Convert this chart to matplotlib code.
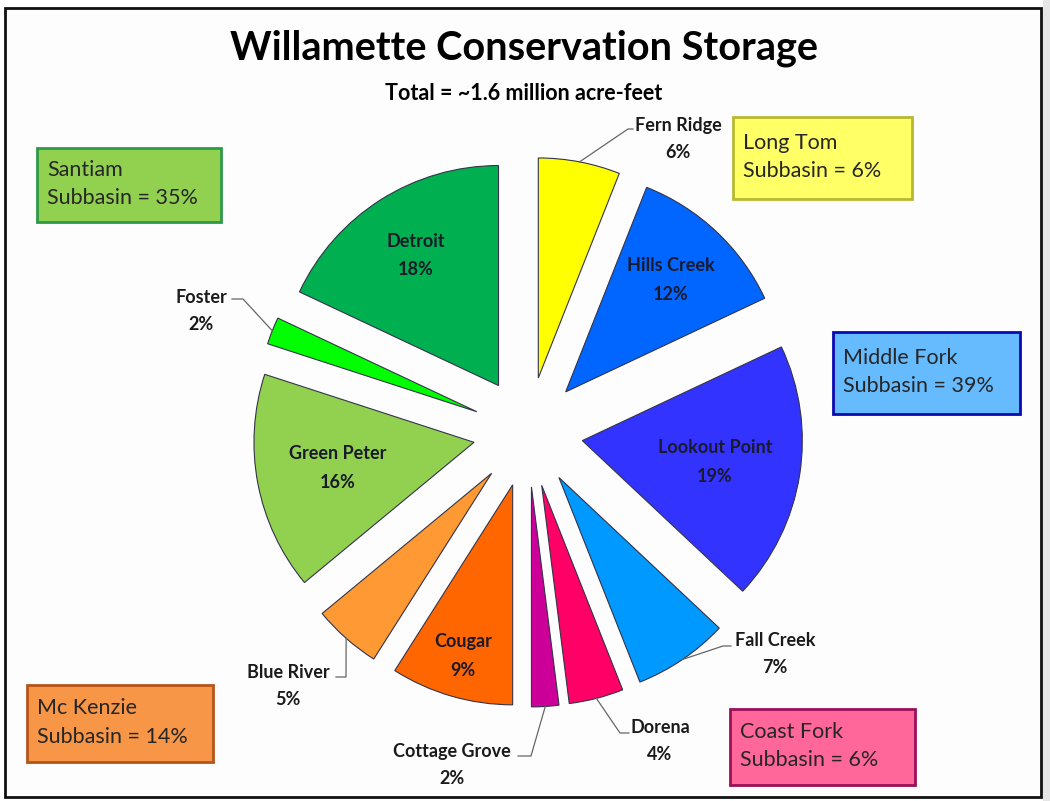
import numpy as np
import matplotlib.pyplot as plt
from matplotlib.patches import Rectangle

plt.rcParams['font.family'] = ['Lato', 'DejaVu Sans']

# Reservoir shares of conservation storage (percent), clockwise from 12 o'clock
reservoirs = ['Fern Ridge', 'Hills Creek', 'Lookout Point', 'Fall Creek', 'Dorena',
              'Cottage Grove', 'Cougar', 'Blue River', 'Green Peter', 'Foster', 'Detroit']
shares = [6, 12, 19, 7, 4, 2, 9, 5, 16, 2, 18]
slice_colors = ['#ffff00', '#0066ff', '#3333ff', '#0099ff', '#ff0066',
                '#cc0099', '#ff6600', '#ff9933', '#92d050', '#00ff00', '#00b050']

# Subbasin totals shown in the corner boxes
subbasins = ['Santiam', 'Long Tom', 'Middle Fork', 'Mc Kenzie', 'Coast Fork']
subbasin_pct = [35, 6, 39, 14, 6]

W, H = 1050, 801
CX, CY, R = 528, 432, 220   # pie centre and radius in pixels
EXPLODE = 0.25


def px(x, y):
    """pixel position -> pie data coordinates"""
    return (x - CX) / R, (CY - y) / R


fig = plt.figure(figsize=(W / 100, H / 100), dpi=100)
ax = fig.add_axes([0, 0, 1, 1])

wedges, _ = ax.pie(shares, colors=slice_colors, startangle=90, counterclock=False,
                   explode=[EXPLODE] * len(shares), radius=1,
                   wedgeprops=dict(edgecolor='#33334a', linewidth=0.8))

ax.set_xlim(px(0, 0)[0], px(W, 0)[0])
ax.set_ylim(px(0, H)[1], px(0, 0)[1])
ax.set_aspect('equal')
ax.axis('off')

# slide frame
fig.patches.append(Rectangle((1043 / W, 0), 7 / W, 1, transform=fig.transFigure,
                             facecolor='#e6e6e6', edgecolor='none', zorder=0))
fx0, fy0 = px(5, 797)
fx1, fy1 = px(1041, 8)
ax.add_patch(Rectangle((fx0, fy0), fx1 - fx0, fy1 - fy0, facecolor='#fdfdfd',
                       edgecolor='#111111', lw=2, zorder=0))

mids = []
for w in wedges:
    mids.append(np.deg2rad((w.theta1 + w.theta2) / 2))

# labels inside the larger slices
inside = {'Hills Creek': 0.70, 'Lookout Point': 0.61, 'Cougar': 0.81,
          'Green Peter': 0.63, 'Detroit': 0.70}
for name, r in inside.items():
    i = reservoirs.index(name)
    d = EXPLODE + r
    ax.text(d * np.cos(mids[i]), d * np.sin(mids[i]), f'{name}\n{shares[i]}%',
            ha='center', va='center', fontsize=13, fontweight='bold',
            color='#1a1a2a', linespacing=1.85)

# labels outside the thin slices, with leader lines (text centre, elbow point)
outside = {
    'Fern Ridge': ((678, 139), [(628, 129), (633, 129)]),
    'Foster': ((201, 311), [(243, 299), (232, 299)]),
    'Blue River': ((288, 686), [(346, 677), (336, 677)]),
    'Cottage Grove': ((452, 765), [(531, 756), (518, 756)]),
    'Dorena': ((660, 741), [(620, 733), (629, 733)]),
    'Fall Creek': ((775, 654), [(723, 646), (731, 646)]),
}
for name, ((tx, ty), elbow) in outside.items():
    i = reservoirs.index(name)
    d = EXPLODE + 1.0
    xs = [d * np.cos(mids[i])] + [px(*p)[0] for p in elbow]
    ys = [d * np.sin(mids[i])] + [px(*p)[1] for p in elbow]
    ax.plot(xs, ys, color='#666666', lw=0.9, zorder=3)
    ax.text(*px(tx, ty), f'{name}\n{shares[i]}%', ha='center', va='center',
            fontsize=13, fontweight='bold', color='#1a1a1a', linespacing=1.75)

# subbasin boxes: (left, top, right, bottom) in pixels, fill, border
boxes = {
    'Santiam': ((37, 148, 221, 222), '#92d050', '#2e9a48'),
    'Long Tom': ((733, 117, 912, 199), '#ffff66', '#b8b832'),
    'Middle Fork': ((833, 332, 1020, 414), '#66bbff', '#0a0ab4'),
    'Mc Kenzie': ((27, 685, 213, 762), '#f79646', '#b5541a'),
    'Coast Fork': ((730, 709, 915, 785), '#ff6699', '#99105a'),
}
for name, pct in zip(subbasins, subbasin_pct):
    (l, t, r, b), fc, ec = boxes[name]
    x0, y0 = px(l, b)
    x1, y1 = px(r, t)
    ax.add_patch(Rectangle((x0, y0), x1 - x0, y1 - y0, facecolor=fc,
                           edgecolor=ec, lw=2, zorder=4))
    ax.text(*px(l + 10, (t + b) / 2 - 1), f'{name}\nSubbasin = {pct}%', ha='left',
            va='center', fontsize=15.5, color='#262626', linespacing=1.55, zorder=5)

ax.text(*px(524, 48), 'Willamette Conservation Storage', ha='center', va='center',
        fontsize=28.5, fontweight='bold', color='black')
ax.text(*px(524, 93), 'Total = ~1.6 million acre-feet', ha='center', va='center',
        fontsize=15.5, fontweight='bold', color='black')

fig.savefig('out.png', dpi=100)
